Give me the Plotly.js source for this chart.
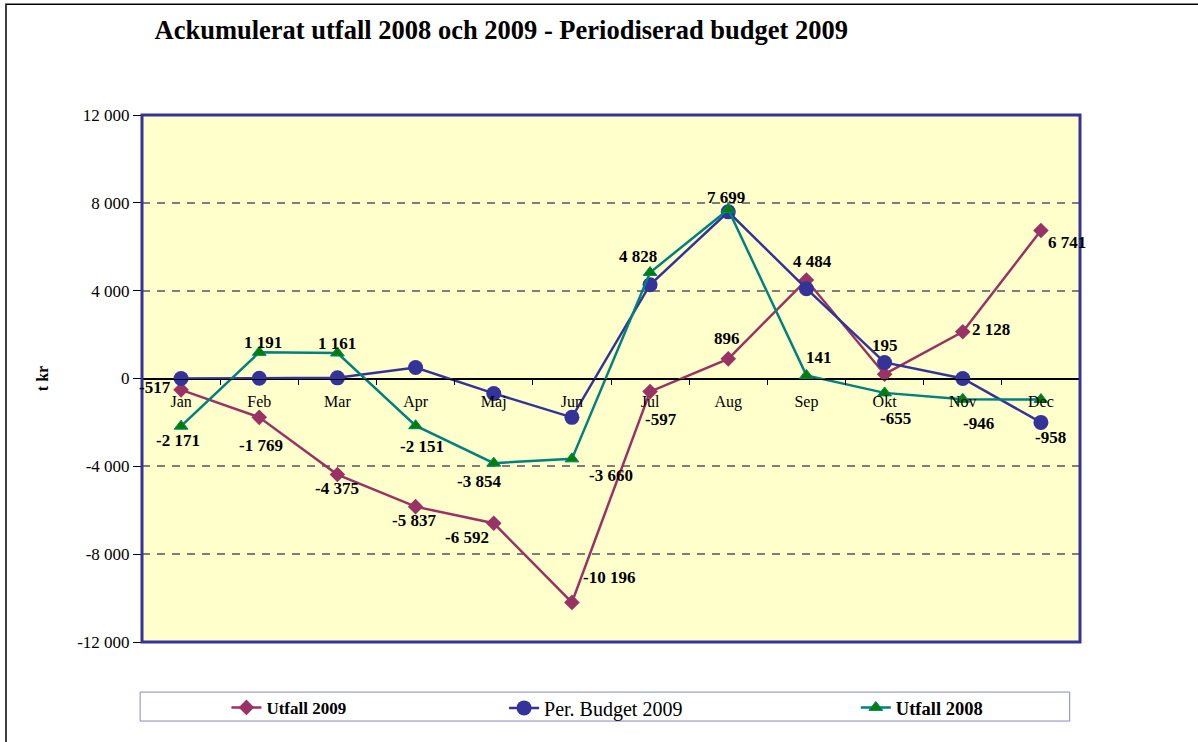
<!DOCTYPE html>
<html>
<head>
<meta charset="utf-8">
<script src="https://cdn.plot.ly/plotly-3.0.1.min.js"></script>
<style>
  body { margin: 0; background: #fff; }
  #chart { width: 1198px; height: 742px; }
</style>
</head>
<body>
<div id="chart"></div>
<script>
// months on the x axis
const months = ['Jan', 'Feb', 'Mar', 'Apr', 'Maj', 'Jun', 'Jul', 'Aug', 'Sep', 'Okt', 'Nov', 'Dec'];

// values in t kr
const utfall2009 = [-517, -1769, -4375, -5837, -6592, -10196, -597, 896, 4484, 195, 2128, 6741];
const budget2009 = [0, 10, 30, 500, -680, -1770, 4270, 7590, 4090, 730, 0, -2000];
const utfall2008 = [-2171, 1191, 1161, -2151, -3854, -3660, 4828, 7699, 141, -655, -946, -958];

// y ticks
const yTicks = [-12000, -8000, -4000, 0, 4000, 8000, 12000];
const yTickText = ['-12 000', '-8 000', '-4 000', '0', '4 000', '8 000', '12 000'];

// pixel nudges for the data labels, [dx, dy] with dy pointing down (Excel put them all over the place)
const shift2009 = [[-26, -2], [2, 28], [0, 14], [-2, 14], [-27, 14], [37, -25],
                   [11, 28], [-1, -20], [6, -19], [0, -29], [28, -2], [26, 12]];
const shift2008 = [[-3, 14], [4, -10], [0, -10], [6, 21], [-15, 18], [39, 17],
                   [-12, -16], [-2, -12], [13, -18], [11, 26], [16, 24], [10, 38]];

function fmt(v) {
    let s = Math.abs(v).toString().replace(/\B(?=(\d{3})+(?!\d))/g, ' ');
    return (v < 0 ? '-' : '') + s;
}

const serif = 'Liberation Serif, Times New Roman, serif';
const labelFont = { family: serif, size: 17, color: '#000' };

let traces = [
    {
        x: months, y: utfall2009, name: '<b>Utfall 2009</b>',
        type: 'scatter', mode: 'lines+markers',
        line: { color: '#993366', width: 2.5 },
        marker: { symbol: 'diamond', size: 12, color: '#993366' },
        legend: 'legend'
    },
    {
        x: months, y: budget2009, name: 'Per. Budget 2009',
        type: 'scatter', mode: 'lines+markers',
        line: { color: '#333399', width: 2.5 },
        marker: { symbol: 'circle', size: 15, color: '#333399' },
        legend: 'legend2'
    },
    {
        x: months, y: utfall2008, name: '<b>Utfall 2008</b>',
        type: 'scatter', mode: 'lines+markers',
        line: { color: '#008080', width: 2.5 },
        marker: { symbol: 'triangle-up', size: 12, color: '#008000', line: { color: '#008080', width: 1 } },
        legend: 'legend3'
    }
];

// data labels as annotations tied to the data points
let annotations = [];
function addLabels(values, shifts) {
    values.forEach((v, i) => {
        annotations.push({
            x: months[i], y: v, xref: 'x', yref: 'y',
            text: '<b>' + fmt(v) + '</b>', showarrow: false,
            xshift: shifts[i][0], yshift: -shifts[i][1],
            font: labelFont
        });
    });
}
addLabels(utfall2009, shift2009);
addLabels(utfall2008, shift2008);

const legendBase = {
    orientation: 'h', yanchor: 'middle', y: -0.125, xanchor: 'left',
    bgcolor: 'rgba(0,0,0,0)', borderwidth: 0,
    font: { family: serif, size: 17, color: '#000' }
};

let layout = {
    width: 1198, height: 742,
    margin: { l: 142, r: 118, t: 115, b: 100 },
    paper_bgcolor: '#ffffff',
    plot_bgcolor: '#FFFFCC',
    showlegend: true,
    title: {
        text: '<b>Ackumulerat utfall 2008 och 2009 - Periodiserad budget 2009</b>',
        font: { family: serif, size: 26.5, color: '#000' },
        x: 0.129, xanchor: 'left', xref: 'container',
        y: 0.96, yanchor: 'middle', yref: 'container'
    },
    xaxis: {
        type: 'category',
        range: [-0.5, 11.5],
        anchor: 'free', position: 0.5,
        showline: true, linecolor: '#000', linewidth: 1,
        ticks: 'outside', tickson: 'boundaries', ticklen: 5, tickcolor: '#000',
        ticklabelstandoff: 8,
        showgrid: false, zeroline: false,
        tickfont: { family: serif, size: 16, color: '#000' }
    },
    yaxis: {
        range: [-12000, 12000],
        tickvals: yTicks, ticktext: yTickText,
        ticks: 'outside', ticklen: 8, tickcolor: '#000',
        showline: false,
        zeroline: true, zerolinecolor: '#000', zerolinewidth: 1,
        showgrid: true, gridcolor: '#7f7f78', gridwidth: 2, griddash: '8px,7px',
        tickfont: { family: serif, size: 17, color: '#000' },
        title: { text: '<b>t kr</b>', font: { family: serif, size: 16, color: '#000' }, standoff: 24 }
    },
    legend: Object.assign({}, legendBase, { x: 0.09 }),
    legend2: Object.assign({}, legendBase, { x: 0.386, font: { family: serif, size: 20, color: '#000' } }),
    legend3: Object.assign({}, legendBase, { x: 0.761, font: { family: serif, size: 18.5, color: '#000' } }),
    annotations: annotations,
    shapes: [
        // plot frame
        { type: 'rect', xref: 'paper', yref: 'paper', x0: 0, x1: 1, y0: 0, y1: 1,
          line: { color: '#333399', width: 3 }, layer: 'above' },
        // legend box
        { type: 'rect', xref: 'paper', yref: 'paper', x0: -0.002, x1: 0.989, y0: -0.15, y1: -0.095,
          line: { color: '#8888C0', width: 1 }, fillcolor: '#ffffff', layer: 'below' },
        // outer chart frame (right side runs off the page)
        { type: 'rect', xref: 'paper', yref: 'paper', x0: -0.145, x1: 1.2, y0: -0.2, y1: 1.21,
          line: { color: '#000', width: 1.5 }, layer: 'below' }
    ]
};

Plotly.newPlot('chart', traces, layout, { displayModeBar: false, staticPlot: true });
</script>
</body>
</html>
